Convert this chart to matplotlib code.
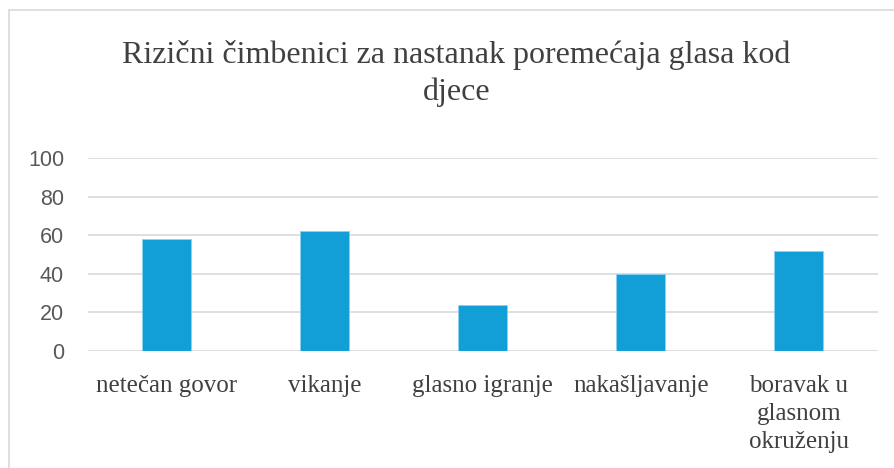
import matplotlib.pyplot as plt
from matplotlib.patches import Rectangle

categories = ['netečan govor', 'vikanje', 'glasno igranje', 'nakašljavanje',
              'boravak u\nglasnom\nokruženju']
values = [58, 62, 24, 40, 52]
yticks = [0, 20, 40, 60, 80, 100]

fig = plt.figure(figsize=(8.95, 4.68), dpi=100)
ax = fig.add_axes([0.098, 0.25, 0.883, 0.412])

# outer chart frame (light grey, cut off at right/bottom)
fig.patches.append(Rectangle((0.010, -0.05), 1.5, 1.029,
                             transform=fig.transFigure, fill=False,
                             edgecolor='#d9d9d9', linewidth=1.2))

ax.bar(range(len(categories)), values, width=0.31, color='#129ED6',
       edgecolor='#8fd0ee', linewidth=0.6, zorder=3)

ax.set_ylim(0, 100)
ax.set_xlim(-0.5, len(categories) - 0.5)
ax.set_yticks(yticks)
ax.yaxis.grid(True, color='#d9d9d9', linewidth=1.2, zorder=0)
for s in ax.spines.values():
    s.set_visible(False)
ax.tick_params(axis='both', length=0)
ax.tick_params(axis='y', labelsize=15.5, labelcolor='#595959', pad=17)
for lab in ax.get_yticklabels():
    lab.set_fontfamily('Liberation Sans')

ax.set_xticks(range(len(categories)))
ax.set_xticklabels(categories, fontfamily='Liberation Serif', fontsize=18,
                   color='#404040', linespacing=1.35)
ax.tick_params(axis='x', pad=17)

fig.text(0.51, 0.843, 'Rizični čimbenici za nastanak poremećaja glasa kod\ndjece',
         ha='center', va='center', fontfamily='Liberation Serif', fontsize=23,
         color='#404040', linespacing=1.34)

fig.savefig('out.png', dpi=100)
